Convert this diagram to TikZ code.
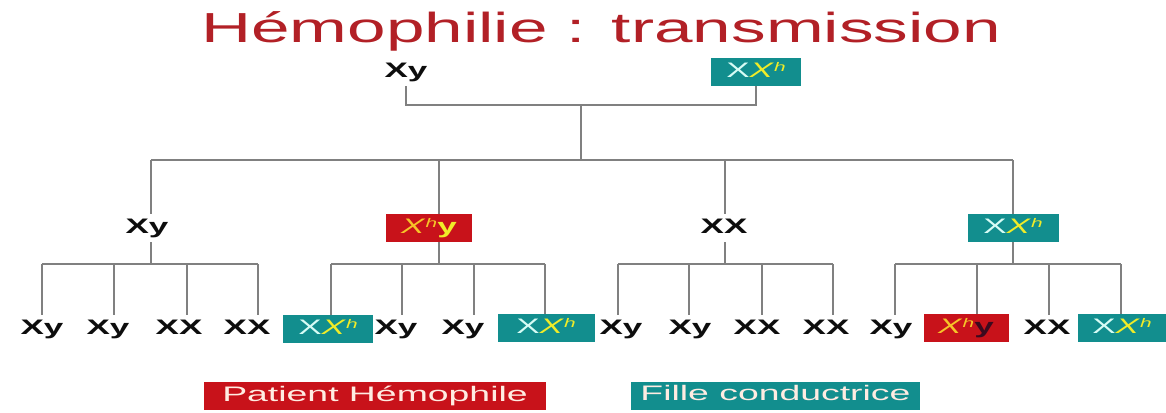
\documentclass[tikz,border=0pt]{standalone}
\usepackage{fontspec}
\setmainfont{Liberation Sans}

\definecolor{titlered}{RGB}{178,32,38}
\definecolor{boxred}{RGB}{200,18,26}
\definecolor{boxteal}{RGB}{18,142,142}
\definecolor{linegray}{RGB}{128,128,128}
\definecolor{paleX}{RGB}{215,252,245}
\definecolor{yelX}{RGB}{240,236,40}
\definecolor{orangeX}{RGB}{246,196,40}
\definecolor{darky}{RGB}{60,10,30}
\definecolor{legendtxt}{RGB}{255,236,226}

% horizontally widened lettering
\newcommand\widetxt[1]{\scalebox{1.67}[1]{#1}}
\newcommand\Xh{\textit{X}\raisebox{0.55ex}{\fontsize{12.5}{13}\selectfont\itshape h}}
\newcommand\carrier{\widetxt{\textcolor{paleX}{X}\textcolor{yelX}{\Xh}}}

\tikzset{
  gene/.style={font=\fontsize{21}{25}\selectfont\bfseries, text=black!95,
    text height=15pt, text depth=4.5pt, minimum height=28pt,
    inner xsep=0pt, inner ysep=0pt},
  tealbox/.style={gene, font=\fontsize{21}{25}\selectfont, fill=boxteal,
    minimum width=90pt},
  redbox/.style={gene, font=\fontsize{21}{25}\selectfont, fill=boxred,
    minimum width=86pt},
  link/.style={draw=linegray, line width=2.8pt},
  legendbox/.style={font=\fontsize{21}{25}\selectfont, text=legendtxt,
    text height=15pt, text depth=4.5pt, minimum height=28pt, inner sep=0pt},
}

\begin{document}
\begin{tikzpicture}[x=1pt,y=-1pt]
\useasboundingbox (0,0) rectangle (1166,412);

% title
\node[anchor=base west, inner sep=0pt, text=titlered,
      font=\fontsize{42}{48}\selectfont] (title) at (201,43)
  {\scalebox{1.65}[1]{Hémophilie : transmission}};

% parents
\node[gene] (p1) at (406,72) {\widetxt{Xy}};
\node[tealbox] (p2) at (756,72) {\carrier};

% children
\node[gene] (g1) at (147,228) {\widetxt{Xy}};
\node[redbox] (g2) at (429,228)
  {\widetxt{\textcolor{orangeX}{\Xh}\textcolor{yelX}{\bfseries y}}};
\node[gene] (g3) at (724,228) {\widetxt{XX}};
\node[tealbox, minimum width=91pt] (g4) at (1013,228) {\carrier};

% grandchildren
\node[gene] (b11) at (42,329) {\widetxt{Xy}};
\node[gene] (b12) at (108,329) {\widetxt{Xy}};
\node[gene] (b13) at (179,329) {\widetxt{XX}};
\node[gene] (b14) at (247,329) {\widetxt{XX}};

\node[tealbox] (b21) at (328,329) {\carrier};
\node[gene] (b22) at (396,329) {\widetxt{Xy}};
\node[gene] (b23) at (463,329) {\widetxt{Xy}};
\node[tealbox, minimum width=97pt] (b24) at (546,328) {\carrier};

\node[gene] (b31) at (621,329) {\widetxt{Xy}};
\node[gene] (b32) at (690,329) {\widetxt{Xy}};
\node[gene] (b33) at (757,329) {\widetxt{XX}};
\node[gene] (b34) at (826,329) {\widetxt{XX}};

\node[gene] (b41) at (891,329) {\widetxt{Xy}};
\node[redbox, minimum width=85pt] (b42) at (966,328)
  {\widetxt{\textcolor{orangeX}{\Xh}\textcolor{darky}{\bfseries y}}};
\node[gene] (b43) at (1047,329) {\widetxt{XX}};
\node[tealbox, minimum width=88pt] (b44) at (1122,328) {\carrier};

% junction points of the tree
\coordinate (j0) at (581,105);
\coordinate (u0) at (581,160);
\coordinate (u1) at (151,160);
\coordinate (u2) at (439,160);
\coordinate (u3) at (725,160);
\coordinate (u4) at (1013,160);

\coordinate (c11) at (42,264);  \coordinate (c12) at (114,264);
\coordinate (c13) at (187,264); \coordinate (c14) at (258,264);
\coordinate (c21) at (331,264); \coordinate (c22) at (402,264);
\coordinate (c23) at (474,264); \coordinate (c24) at (545,264);
\coordinate (c31) at (618,264); \coordinate (c32) at (689,264);
\coordinate (c33) at (762,264); \coordinate (c34) at (833,264);
\coordinate (c41) at (895,264); \coordinate (c42) at (977,264);
\coordinate (c43) at (1049,264);\coordinate (c44) at (1121,264);

% parents joined
\draw[link] (p1.south) |- (j0) -| (p2.south);
\draw[link] (j0) -- (u0);
\draw[link] (u1) -- (u4);

% each child with its own offspring
\foreach \i in {1,...,4}{
  \draw[link] (u\i) -- (u\i |- g\i.north);
  \draw[link] (u\i |- g\i.south) -- (u\i |- c\i1);
  \draw[link] (c\i1) -- (c\i4);
  \foreach \j in {1,...,4}{
    \draw[link] (c\i\j) -- (c\i\j |- b\i\j.north);
  }
}

% legend
\node[legendbox, fill=boxred, minimum width=342pt] (lg1) at (375,396)
  {\scalebox{1.78}[1]{Patient Hémophile}};
\node[legendbox, fill=boxteal, minimum width=289pt] (lg2) at (775.5,395.5)
  {\scalebox{1.78}[1]{Fille conductrice}};
\end{tikzpicture}
\end{document}
